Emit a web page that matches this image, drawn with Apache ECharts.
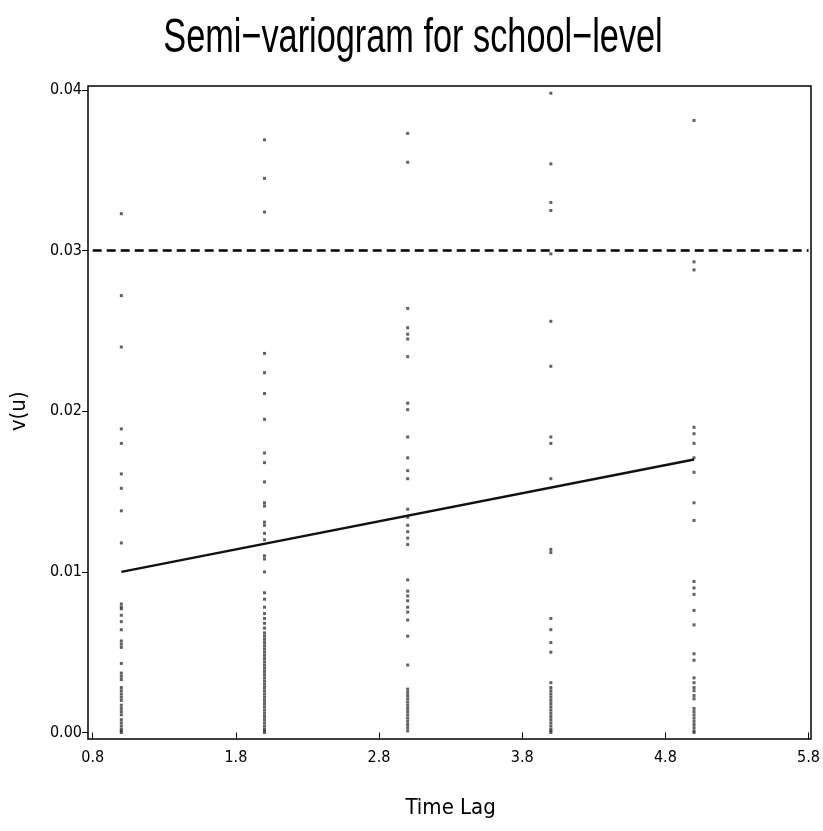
<!DOCTYPE html>
<html>
<head>
<meta charset="utf-8">
<script src="https://cdn.jsdelivr.net/npm/echarts@6/dist/echarts.min.js"></script>
<style>
html,body{margin:0;padding:0;background:#fff;}
#chart{width:823px;height:831px;}
</style>
</head>
<body>
<div id="chart"></div>
<script>
var titleText = 'Semi\u2212variogram for school\u2212level';
var xAxisName = 'Time Lag';
var yAxisName = 'v(u)';
var xTicks = [0.8, 1.8, 2.8, 3.8, 4.8, 5.8];
var yTicks = [0.00, 0.01, 0.02, 0.03, 0.04];
var lags = [1, 2, 3, 4, 5];

var lag1Values = [0.0323, 0.0272, 0.0240, 0.0189, 0.0180, 0.0161, 0.0152, 0.0138, 0.0118,
  0.0080, 0.0078, 0.0077, 0.0073, 0.0069, 0.0064, 0.0057, 0.0055, 0.0053, 0.0043, 0.0037,
  0.0035, 0.0033, 0.0028, 0.0026, 0.0024, 0.0022, 0.0020, 0.0017, 0.0015, 0.0013, 0.0011,
  0.0008, 0.0006, 0.0004, 0.0002, 0.0001, 0.0000];
var lag2Values = [0.0369, 0.0345, 0.0324, 0.0236, 0.0224, 0.0211, 0.0195, 0.0174, 0.0168,
  0.0156, 0.0143, 0.0141, 0.0131, 0.0129, 0.0124, 0.0120, 0.0110, 0.0108, 0.0100, 0.0087,
  0.0083, 0.0078, 0.0074, 0.0071, 0.0068, 0.0065, 0.0062, 0.0060, 0.0058, 0.0056, 0.0054,
  0.0052, 0.0050, 0.0048, 0.0046, 0.0044, 0.0042, 0.0040, 0.0038, 0.0036, 0.0034, 0.0032,
  0.0030, 0.0028, 0.0026, 0.0024, 0.0022, 0.0020, 0.0018, 0.0016, 0.0014, 0.0012, 0.0010,
  0.0008, 0.0006, 0.0004, 0.0002, 0.0001, 0.0000];
var lag3Values = [0.0373, 0.0355, 0.0264, 0.0252, 0.0248, 0.0245, 0.0234, 0.0205, 0.0201,
  0.0184, 0.0171, 0.0163, 0.0158, 0.0139, 0.0134, 0.0129, 0.0125, 0.0121, 0.0117, 0.0095,
  0.0088, 0.0085, 0.0082, 0.0078, 0.0075, 0.0070, 0.0060, 0.0042, 0.0027, 0.0025, 0.0023,
  0.0021, 0.0019, 0.0017, 0.0015, 0.0013, 0.0011, 0.0009, 0.0007, 0.0005, 0.0003, 0.0001];
var lag4Values = [0.0398, 0.0354, 0.0330, 0.0325, 0.0298, 0.0256, 0.0228, 0.0184, 0.0180,
  0.0158, 0.0114, 0.0112, 0.0071, 0.0064, 0.0056, 0.0050, 0.0031, 0.0028, 0.0026, 0.0024,
  0.0022, 0.0020, 0.0018, 0.0016, 0.0014, 0.0012, 0.0010, 0.0008, 0.0006, 0.0004, 0.0002,
  0.0001, 0.0000];
var lag5Values = [0.0381, 0.0293, 0.0288, 0.0190, 0.0186, 0.0180, 0.0171, 0.0162, 0.0143,
  0.0132, 0.0094, 0.0090, 0.0086, 0.0076, 0.0067, 0.0049, 0.0045, 0.0034, 0.0031, 0.0028,
  0.0026, 0.0023, 0.0021, 0.0015, 0.0013, 0.0011, 0.0009, 0.0007, 0.0005, 0.0003, 0.0001,
  0.0000];
var fitLags = [1, 5];
var fitValues = [0.0100, 0.0170];
var referenceLevel = 0.03;

var allValues = [lag1Values, lag2Values, lag3Values, lag4Values, lag5Values];
var scatterData = [];
allValues.forEach(function (vals, i) {
  vals.forEach(function (v) { scatterData.push([lags[i], v]); });
});
var fitData = fitLags.map(function (x, i) { return [x, fitValues[i]]; });

var FONT = '"DejaVu Sans Condensed", "Liberation Sans Narrow", sans-serif';
var TITLE_FONT = '"Liberation Sans", Arial, sans-serif';

var chart = echarts.init(document.getElementById('chart'), null, {renderer: 'canvas'});
chart.setOption({
  backgroundColor: '#ffffff',
  animation: false,
  graphic: [{
    type: 'text',
    x: 413, y: 38,
    scaleX: 0.70, scaleY: 1,
    style: {
      text: titleText,
      fontFamily: TITLE_FONT, fontSize: 49, fill: '#000',
      align: 'center', verticalAlign: 'middle'
    }
  }],
  grid: [
    {left: 92.7, right: 14, top: 90, bottom: 98.5, containLabel: false},
    {left: 88, right: 12, top: 86, bottom: 92, show: true, borderColor: '#000', borderWidth: 1.5, backgroundColor: 'transparent', containLabel: false}
  ],
  xAxis: [
    {
      type: 'value', gridIndex: 0, min: xTicks[0], max: xTicks[xTicks.length - 1], interval: 1,
      offset: 6.5,
      name: xAxisName, nameLocation: 'middle', nameGap: 58,
      nameTextStyle: {fontFamily: FONT, fontSize: 22, color: '#000'},
      axisLine: {show: false},
      axisTick: {show: true, length: 7, lineStyle: {color: '#000', width: 1}},
      axisLabel: {fontFamily: FONT, fontSize: 16, color: '#000', margin: 11,
        formatter: function (v) { return v.toFixed(1); }},
      splitLine: {show: false}
    },
    {type: 'value', gridIndex: 1, show: false, min: 0, max: 1}
  ],
  yAxis: [
    {
      type: 'value', gridIndex: 0, min: yTicks[0], max: yTicks[yTicks.length - 1], interval: 0.01,
      offset: 4.7,
      name: yAxisName, nameLocation: 'middle', nameGap: 58, nameRotate: 90,
      nameTextStyle: {fontFamily: FONT, fontSize: 22, color: '#000'},
      axisLine: {show: false},
      axisTick: {show: true, length: 6, lineStyle: {color: '#000', width: 1}},
      axisLabel: {fontFamily: FONT, fontSize: 16, color: '#000', margin: 6,
        formatter: function (v) { return v.toFixed(2); }},
      splitLine: {show: false}
    },
    {type: 'value', gridIndex: 1, show: false, min: 0, max: 1}
  ],
  series: [
    {
      type: 'scatter', xAxisIndex: 0, yAxisIndex: 0,
      data: scatterData,
      symbol: 'rect', symbolSize: 3,
      itemStyle: {color: '#3a3a3a'},
      z: 3,
      markLine: {
        silent: true, symbol: 'none',
        label: {show: false},
        lineStyle: {color: '#000', type: [9, 5], width: 2.5},
        data: [{yAxis: referenceLevel}]
      }
    },
    {
      type: 'line', xAxisIndex: 0, yAxisIndex: 0,
      data: fitData, symbol: 'none',
      lineStyle: {color: '#111', width: 2.5},
      z: 4
    }
  ]
});
</script>
</body>
</html>
